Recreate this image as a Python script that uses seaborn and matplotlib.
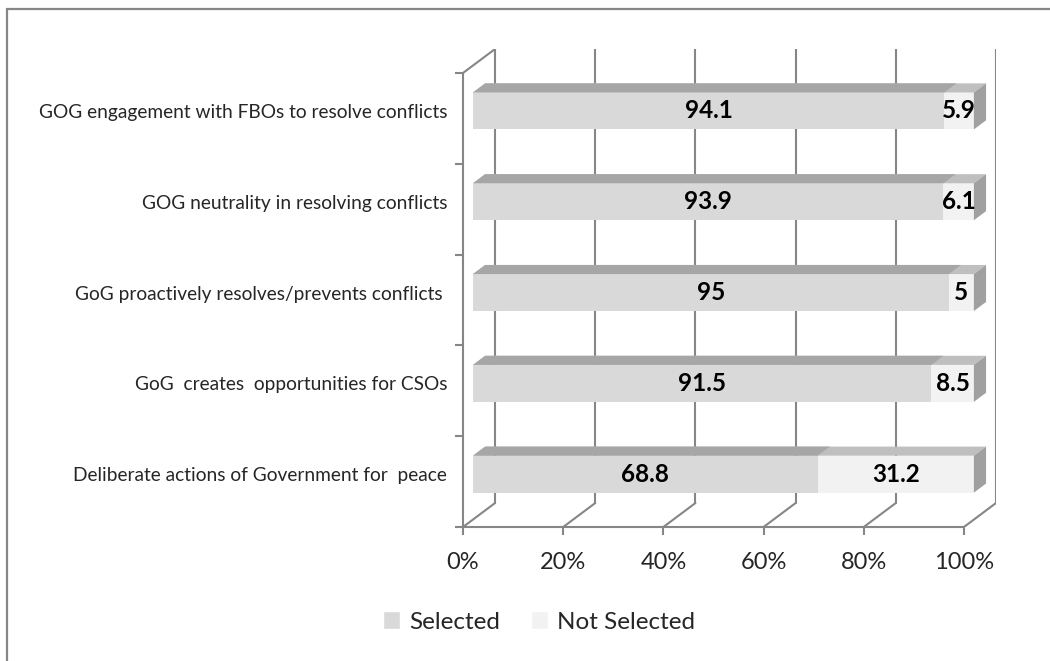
import matplotlib
matplotlib.use("Agg")
import matplotlib.pyplot as plt
from matplotlib.patches import Polygon, Patch, Rectangle
import pandas as pd
import seaborn as sns

# data, bottom row first
categories = [
    "Deliberate actions of Government for  peace",
    "GoG  creates  opportunities for CSOs",
    "GoG proactively resolves/prevents conflicts ",
    "GOG neutrality in resolving conflicts",
    "GOG engagement with FBOs to resolve conflicts",
]
selected = [68.8, 91.5, 95, 93.9, 94.1]
not_selected = [31.2, 8.5, 5, 6.1, 5.9]
xticks = [0, 20, 40, 60, 80, 100]

sns.set_theme(style="white")
plt.rcParams["font.family"] = ["Lato", "DejaVu Sans"]

GRID = "#868686"
SEL_FRONT, SEL_TOP = "#d9d9d9", "#a6a6a6"
NOT_FRONT, NOT_TOP, SIDE = "#f2f2f2", "#bfbfbf", "#a0a0a0"

# 3d box depth in data units (full depth) and bar depth placement
DX, DY = 6.4, 0.264
d0, d1 = 0.31, 0.69
bar_h = 0.407

n = len(categories)
pos = [i + d0 * DY for i in range(n)]
df = pd.DataFrame({
    "pos": pos,
    "Selected": selected,
    "Total": [s + t for s, t in zip(selected, not_selected)],
})

fig = plt.figure(figsize=(10.5, 6.61), dpi=100)
W, H = 1050, 661
ax = fig.add_axes([463 / W, (H - 527) / H, 533 / W, 478 / H])
ax.set_xlim(0, 100 + DX)
ax.set_ylim(-0.5, n - 0.5 + DY)

# outer chart border (cut off at right/bottom like the source)
fig.patches.append(Rectangle((7 / W, -0.1), 1.2, 1 - 9 / H + 0.1, transform=fig.transFigure,
                             fill=False, edgecolor=GRID, lw=1.6))

# back wall + floor + left wall lines
for x in xticks:
    ax.plot([x + DX, x + DX], [-0.5 + DY, n - 0.5 + DY], color=GRID, lw=1.5, zorder=1)
    ax.plot([x, x + DX], [-0.5, -0.5 + DY], color=GRID, lw=1.5, zorder=1)
ax.plot([0, DX], [n - 0.5, n - 0.5 + DY], color=GRID, lw=1.5, zorder=1)

sns.barplot(data=df, x="Total", y="pos", orient="h", native_scale=True, width=bar_h,
            color=NOT_FRONT, saturation=1, errorbar=None, linewidth=0, ax=ax, zorder=3)
sns.barplot(data=df, x="Selected", y="pos", orient="h", native_scale=True, width=bar_h,
            color=SEL_FRONT, saturation=1, errorbar=None, linewidth=0, ax=ax, zorder=4)

bars = list(ax.patches)
tot_bars, sel_bars = bars[:n], bars[n:]
bdx, bdy = (d1 - d0) * DX, (d1 - d0) * DY
for group in (tot_bars, sel_bars):
    for p in group:
        p.set_x(p.get_x() + d0 * DX)
        p.set_clip_on(False)


def top_face(x0, x1, y, color, z):
    ax.add_patch(Polygon([(x0, y), (x1, y), (x1 + bdx, y + bdy), (x0 + bdx, y + bdy)],
                         closed=True, facecolor=color, edgecolor="none", zorder=z, clip_on=False))


for tp, sp, s, t in zip(tot_bars, sel_bars, selected, not_selected):
    x0, y0, w, h = tp.get_x(), tp.get_y(), tp.get_width(), tp.get_height()
    top_face(x0, x0 + w, y0 + h, NOT_TOP, 3)
    top_face(x0, x0 + sp.get_width(), y0 + h, SEL_TOP, 4)
    ax.add_patch(Polygon([(x0 + w, y0), (x0 + w, y0 + h), (x0 + w + bdx, y0 + h + bdy),
                          (x0 + w + bdx, y0 + bdy)], closed=True, facecolor=SIDE,
                         edgecolor="none", zorder=3, clip_on=False))
    yc = y0 + h / 2
    ax.text(x0 + sp.get_width() / 2, yc, f"{s:g}", ha="center", va="center",
            fontsize=17.5, fontweight="bold", color="black", zorder=6)
    ax.text(x0 + sp.get_width() + t / 2, yc, f"{t:g}", ha="center", va="center",
            fontsize=17.5, fontweight="bold", color="black", zorder=6)

# axes
for side in ("top", "right"):
    ax.spines[side].set_visible(False)
for side in ("left", "bottom"):
    ax.spines[side].set_color(GRID)
    ax.spines[side].set_linewidth(1.5)
ax.spines["bottom"].set_bounds(0, 100)
ax.spines["left"].set_bounds(-0.5, n - 0.5)

ax.set_xticks(xticks, [f"{x}%" for x in xticks])
ax.set_yticks([i - 0.5 for i in range(n + 1)], minor=True)
ax.set_yticks(pos, categories)
ax.tick_params(axis="x", direction="out", length=6, width=1.5, color=GRID,
               labelsize=17, pad=12, bottom=True)
ax.tick_params(axis="y", which="major", length=0, labelsize=13.8, pad=11.5)
ax.tick_params(axis="y", which="minor", direction="out", length=6, width=1.5,
               color=GRID, left=True)
ax.set_xlabel("")
ax.set_ylabel("")
ax.grid(False)
ax.set_facecolor("none")

handles = [Patch(facecolor=SEL_FRONT, label="Selected"),
           Patch(facecolor=NOT_FRONT, label="Not Selected")]
fig.legend(handles=handles, loc="center", bbox_to_anchor=(539 / W, 1 - 622 / H), ncol=2,
           frameon=False, fontsize=17.5, handlelength=0.7, handleheight=0.7,
           handletextpad=0.35, columnspacing=1.3)

fig.savefig("out.png", dpi=100)
